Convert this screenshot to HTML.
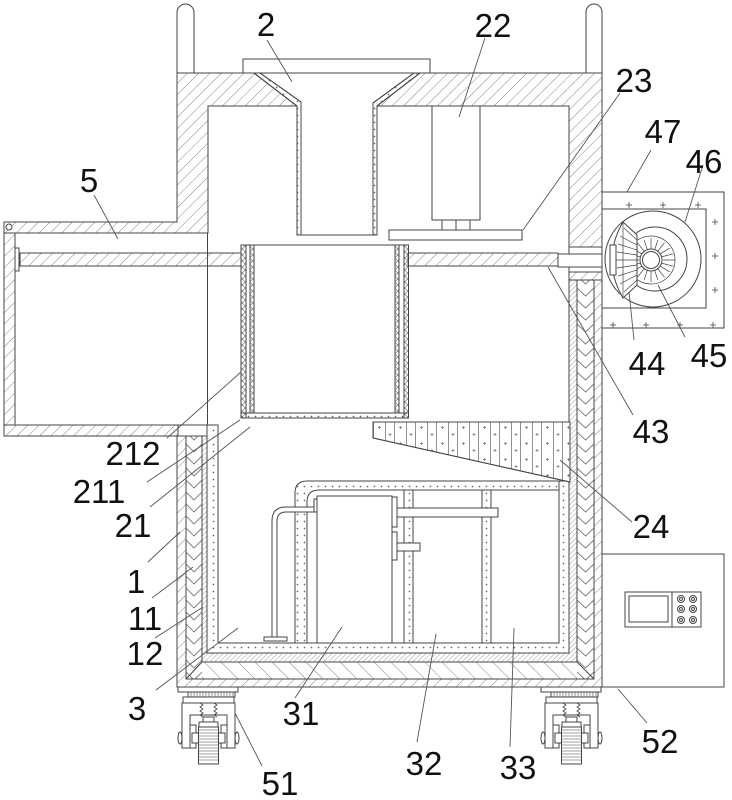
<!DOCTYPE html>
<html><head><meta charset="utf-8"><style>
html,body{margin:0;padding:0;background:#fff;}
svg{display:block;}
text{font-family:"Liberation Sans",Arial,sans-serif;font-size:33px;fill:#111;text-anchor:middle;}
</style></head><body>
<svg width="732" height="800" viewBox="0 0 732 800" xmlns="http://www.w3.org/2000/svg">
<defs>
<pattern id="h" width="8" height="8" patternUnits="userSpaceOnUse" patternTransform="rotate(45)"><line x1="0" y1="0" x2="0" y2="8" stroke="#777" stroke-width="0.9"/></pattern>
<pattern id="hd" width="3.5" height="3.5" patternUnits="userSpaceOnUse" patternTransform="rotate(45)"><line x1="0" y1="0" x2="0" y2="3.5" stroke="#777" stroke-width="0.7"/></pattern>
<pattern id="hb" width="12" height="12" patternUnits="userSpaceOnUse" patternTransform="rotate(-45)"><line x1="0" y1="0" x2="0" y2="12" stroke="#777" stroke-width="0.9"/></pattern>
<pattern id="cvL" x="186" y="0" width="16" height="12" patternUnits="userSpaceOnUse"><path d="M0,0 L8,8 L16,0" fill="none" stroke="#777" stroke-width="0.9"/></pattern>
<pattern id="cvR" x="577" y="0" width="17" height="12" patternUnits="userSpaceOnUse"><path d="M0,0 L8.5,8 L17,0" fill="none" stroke="#777" stroke-width="0.9"/></pattern>
<pattern id="d" width="7" height="7" patternUnits="userSpaceOnUse"><path d="M3.5,2.6v1.8M2.6,3.5h1.8" stroke="#666" stroke-width="0.8"/></pattern>
<pattern id="x" width="5" height="6" patternUnits="userSpaceOnUse"><path d="M0,0 L5,6 M5,0 L0,6" stroke="#777" stroke-width="0.6"/></pattern>
<pattern id="hop" x="373" y="422" width="21" height="16" patternUnits="userSpaceOnUse"><path d="M0.5,0V16M12.5,0V16M6.5,4v3M5,5.5h3M17,11v3M15.5,12.5h3" stroke="#777" stroke-width="0.8"/></pattern>
<g id="caster" stroke="#444" stroke-width="1" fill="#fff">
<rect x="0" y="0" width="60" height="5"/>
<rect x="10" y="5" width="47" height="5"/>
<path d="M13,5v5M16,5v5M19,5v5M22,5v5M25,5v5M28,5v5M31,5v5M34,5v5M37,5v5M40,5v5M43,5v5M46,5v5M49,5v5M52,5v5M55,5v5" stroke-width="0.6"/>
<rect x="5" y="10" width="51" height="6"/>
<path d="M4,16 H57 V61 H49 V28 H12 V61 H4 Z"/>
<ellipse cx="2" cy="51" rx="2" ry="6"/>
<ellipse cx="59" cy="51" rx="2" ry="6"/>
<rect x="12" y="38" width="6" height="23"/>
<rect x="43" y="38" width="6" height="23"/>
<rect x="14" y="46" width="33" height="10"/>
<rect x="20.5" y="40" width="20" height="37"/>
<path d="M20.5,43h20M20.5,46h20M20.5,49h20M20.5,52h20M20.5,55h20M20.5,58h20M20.5,61h20M20.5,64h20M20.5,67h20M20.5,70h20M20.5,73h20" stroke-width="0.6"/>
<path d="M22,16 l3,2 -3,2 3,2 -3,2 3,2 -3,2 3,2 M36,16 l3,2 -3,2 3,2 -3,2 3,2 -3,2 3,2" fill="none" stroke-width="0.8"/>
<rect x="25" y="30" width="11" height="5"/>
<rect x="21" y="35" width="19" height="5"/>
</g>
</defs>
<rect width="732" height="800" fill="#fff"/>
<g stroke="#444" stroke-width="1" fill="none">
<path d="M177,73 V12.5 A8.5,8.5 0 0 1 194,12.5 V73" fill="#fff"/>
<path d="M586,73 V12 A8,8 0 0 1 602,12 V73" fill="#fff"/>
<rect x="243" y="59" width="187" height="14" fill="#fff"/>
<path d="M4,222 H177 V73 H254 L297,106 H208 V233 H4 Z" fill="url(#h)"/>
<path d="M420,73 H602 V247 H569 V106 H377 Z" fill="url(#h)"/>
<path d="M254,73 H260 L301,102 V235 H297 V106 Z" fill="#fff"/>
<path d="M254,73 H260 L301,102 V235 H297 V106 Z" fill="url(#d)"/>
<path d="M414,73 H420 L377,106 V235 H373 V103 Z" fill="#fff"/>
<path d="M414,73 H420 L377,106 V235 H373 V103 Z" fill="url(#d)"/>
<line x1="297" y1="235" x2="377" y2="235"/>
<rect x="432" y="106" width="48" height="114" fill="#fff"/>
<rect x="442" y="220" width="28" height="10" fill="#fff"/>
<line x1="456" y1="220" x2="456" y2="230"/>
<rect x="389" y="230" width="133" height="10" fill="#fff"/>
<rect x="4" y="233" width="11" height="192" fill="url(#h)"/>
<rect x="4" y="425" width="174" height="11" fill="url(#h)"/>
<line x1="15" y1="425" x2="218" y2="425"/>
<circle cx="9" cy="227" r="3" fill="#fff"/>
<line x1="207.5" y1="233" x2="207.5" y2="425"/>
<rect x="20" y="253" width="221" height="13" fill="url(#h)"/>
<rect x="15" y="248" width="4" height="23" fill="#fff"/>
<rect x="408" y="253" width="150" height="13" fill="url(#h)"/>
<line x1="241" y1="245" x2="408" y2="245"/>
<rect x="241" y="245" width="5" height="173" fill="url(#x)"/>
<rect x="250" y="245" width="4" height="168" fill="url(#x)"/>
<rect x="395" y="245" width="4" height="168" fill="url(#x)"/>
<rect x="404" y="245" width="4.5" height="173" fill="url(#x)"/>
<rect x="241" y="413" width="167.5" height="5" fill="url(#d)"/>
<rect x="569" y="247" width="33" height="25" fill="#fff"/>
<rect x="569" y="272" width="33" height="8" fill="url(#h)"/>
<rect x="558" y="254" width="54" height="13" fill="#fff"/>
<path d="M177,436 V687 H602 V280 H594 V679 H186 V436 Z" fill="url(#h)"/>
<rect x="186" y="436" width="16" height="243" fill="url(#cvL)" stroke="none"/>
<rect x="577" y="280" width="17" height="399" fill="url(#cvR)" stroke="none"/>
<rect x="202" y="662" width="375" height="17" fill="url(#hb)" stroke="none"/>
<path d="M186,436 V679 H594 V280 H577 V662 H202 V436 Z"/>
<line x1="186" y1="679" x2="202" y2="662"/>
<line x1="594" y1="679" x2="577" y2="662"/>
<path d="M202,436 V662 H577 V280 H569 V653 H207 V436 Z" fill="url(#hd)"/>
<path d="M207,425 V653 H569 V481 H559 V643 H218 V425 Z" fill="#fff"/>
<path d="M207,425 V653 H569 V481 H559 V643 H218 V425 Z" fill="url(#d)"/>
<line x1="177" y1="436" x2="207" y2="436"/>
<path d="M295,643 V493 Q295,481 307,481 H559 V490 H319 Q307,490 307,502 V643 Z" fill="url(#d)"/>
<rect x="404" y="490" width="9" height="153" fill="url(#d)"/>
<rect x="482" y="490" width="9" height="153" fill="url(#d)"/>
<rect x="317" y="496" width="75" height="147" fill="#fff"/>
<rect x="397" y="508" width="101" height="9" fill="#fff"/>
<rect x="392" y="497" width="5" height="30" fill="#fff"/>
<rect x="397" y="543" width="23" height="8" fill="#fff"/>
<rect x="392" y="532" width="5" height="28" fill="#fff"/>
<path d="M272,637 V521 Q272,507 286,507 H314 V512 H286 Q277,512 277,521 V637 Z" fill="#fff"/>
<rect x="314" y="499" width="3" height="13" fill="#fff"/>
<rect x="264" y="637" width="23" height="4" fill="#fff"/>
<path d="M373,422 H570 V482 L373,438 Z" fill="#fff"/>
<path d="M373,422 H570 V482 L373,438 Z" fill="url(#hop)"/>
<rect x="602" y="192" width="122" height="136" fill="#fff"/>
<rect x="602" y="209" width="104" height="99" fill="#fff"/>
<path d="M629,202v6M626,205h6M663,202v6M660,205h6M698,202v6M695,205h6M715,219v6M712,222h6M715,253v6M712,256h6M715,287v6M712,290h6M613,322v6M610,325h6M646,322v6M643,325h6M680,322v6M677,325h6M713,322v6M710,325h6" stroke-width="0.8"/>
<circle cx="653" cy="259" r="48" fill="#fff"/>
<circle cx="655" cy="259" r="32" fill="#fff"/>
<circle cx="651" cy="260" r="24" stroke-width="0.7"/>
<g stroke-width="0.7">
<path d="M663,260H675M661.4,263.1L673.2,266.2M659.5,265.7L669.8,271.9M657,267.6L664.6,277.3M654.1,268.6L657.9,280.1M651,269L651,282M647.9,268.6L644.1,280.1M645,267.6L637.4,277.3M642.5,265.7L632.2,271.9M640.6,263.1L628.8,266.2M639,260H627M640.6,256.9L628.8,253.8M642.5,254.3L632.2,248.1M645,252.4L637.4,242.7M647.9,251.4L644.1,239.9M651,251L651,238M654.1,251.4L657.9,239.9M657,252.4L664.6,242.7M659.5,254.3L669.8,248.1M661.4,256.9L673.2,253.8"/>
</g>
<circle cx="651" cy="260" r="11" fill="#fff"/>
<circle cx="651" cy="260" r="8.5"/>
<path d="M623,222 Q601,260 623,298 L637,285 V235 Z" fill="#fff"/>
<path d="M624,228L637,240M620,236L637,245M618,244L637,250M617,252L637,255M616,260L637,260M617,268L637,265M618,276L637,270M620,284L637,275M624,292L637,280" stroke-width="0.7"/>
<line x1="623" y1="222" x2="623" y2="298" stroke-width="0.7"/>
<rect x="610" y="245" width="6" height="30" fill="#fff"/>
<rect x="602" y="554" width="122" height="133" fill="#fff"/>
<rect x="625" y="592" width="76" height="35"/>
<rect x="629" y="596" width="39" height="26"/>
<line x1="672" y1="592" x2="672" y2="627"/>
<circle cx="681" cy="599" r="3.5"/><circle cx="693" cy="599" r="3.5"/>
<circle cx="681" cy="609" r="3.5"/><circle cx="693" cy="609" r="3.5"/>
<circle cx="681" cy="620" r="3.5"/><circle cx="693" cy="620" r="3.5"/>
<circle cx="681" cy="599" r="1.5"/><circle cx="693" cy="599" r="1.5"/>
<circle cx="681" cy="609" r="1.5"/><circle cx="693" cy="609" r="1.5"/>
<circle cx="681" cy="620" r="1.5"/><circle cx="693" cy="620" r="1.5"/>
</g>
<use href="#caster" x="178" y="687"/>
<use href="#caster" x="541" y="687"/>
<g stroke="#555" stroke-width="0.9" fill="none">
<line x1="267" y1="40" x2="292" y2="82"/>
<line x1="485" y1="38" x2="459" y2="117"/>
<line x1="620" y1="93" x2="523" y2="230"/>
<line x1="651" y1="150" x2="627" y2="192"/>
<line x1="703" y1="165" x2="685" y2="222"/>
<line x1="634" y1="340" x2="629" y2="292"/>
<line x1="685" y1="337" x2="658" y2="285"/>
<line x1="633" y1="415" x2="548" y2="267"/>
<line x1="632" y1="522" x2="560" y2="460"/>
<line x1="94" y1="195" x2="118" y2="239"/>
<line x1="167" y1="438" x2="241" y2="372"/>
<line x1="147" y1="482" x2="240" y2="420"/>
<line x1="150" y1="507" x2="250" y2="427"/>
<line x1="148" y1="562" x2="180" y2="532"/>
<line x1="152" y1="598" x2="193" y2="567"/>
<line x1="155" y1="638" x2="203" y2="607"/>
<line x1="156" y1="690" x2="238" y2="628"/>
<line x1="262" y1="766" x2="235" y2="713"/>
<line x1="618" y1="689" x2="647" y2="723"/>
<line x1="295" y1="698" x2="342" y2="627"/>
<line x1="417" y1="742" x2="436" y2="634"/>
<line x1="510" y1="747" x2="514" y2="628"/>
</g>
<text x="266" y="36">2</text>
<text x="493" y="37">22</text>
<text x="634" y="92">23</text>
<text x="663" y="143">47</text>
<text x="704" y="173">46</text>
<text x="89" y="192">5</text>
<text x="647" y="375">44</text>
<text x="709" y="367">45</text>
<text x="651" y="443">43</text>
<text x="651" y="538">24</text>
<text x="133" y="465">212</text>
<text x="99" y="503">211</text>
<text x="133" y="537">21</text>
<text x="136" y="593">1</text>
<text x="145" y="630">11</text>
<text x="145" y="665">12</text>
<text x="137" y="720">3</text>
<text x="301" y="725">31</text>
<text x="424" y="775">32</text>
<text x="518" y="779">33</text>
<text x="280" y="795">51</text>
<text x="660" y="753">52</text>
</svg>
</body></html>
